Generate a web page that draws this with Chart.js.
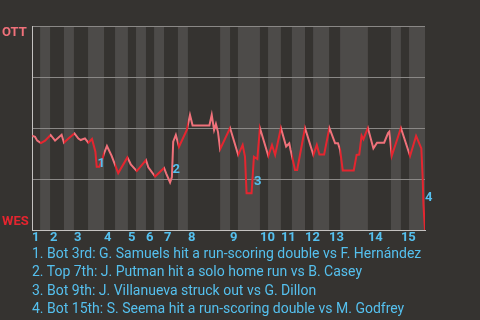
<!DOCTYPE html>
<html>
<head>
<meta charset="utf-8">
<script src="https://cdn.jsdelivr.net/npm/chart.js@4.4.1/dist/chart.umd.min.js"></script>
<style>
  html, body { margin: 0; padding: 0; background: #353330; }
  #wrap { position: relative; width: 480px; height: 320px; }
  #notes {
    position: absolute; left: 32px; top: 244px;
    font: 14px Roboto, sans-serif; line-height: 18.3px;
    color: #55c0ee; white-space: nowrap;
  }
</style>
</head>
<body>
<div id="wrap">
  <canvas id="wpChart" width="480" height="320"></canvas>
  <div id="notes"></div>
</div>
<script>
// Game data: x = play index, y = Ottawa win probability (%)
const playX = [0, 1.15, 2.0, 3.4, 5.0, 7.1, 8.8, 11.3, 12.2, 13.9, 16.2, 17.7, 18.6, 20.2, 21.5, 22.9,
  24.2, 24.7, 25.7, 27.0, 27.5, 28.6, 30.4, 32.9, 36.4, 37.7, 40.0, 43.5, 44.4, 47.0, 50.4, 51.2,
  52.7, 53.4, 53.9, 54.9, 56.1, 59.1, 60.3, 61.3, 67.7, 68.6, 69.5, 70.2, 71.0, 71.8, 75.6, 78.7,
  80.4, 81.3, 81.9, 83.8, 84.7, 86.0, 87.0, 90.2, 91.6, 92.8, 95.0, 97.0, 98.2, 98.7, 100.4, 101.2,
  104.2, 107.4, 108.7, 109.7, 111.5, 113.5, 115.7, 116.8, 117.6, 118.6, 122.8, 123.9, 124.9, 125.8,
  126.5, 128.2, 130.3, 131.7, 134.4, 135.9, 136.4, 137.3, 138.9, 140.8, 144.3, 146.6, 148.6, 149.1,
  149.4, 150];
const ottWinPct = [46.2, 45.7, 43.8, 42.6, 43.8, 46.6, 43.8, 46.7, 42.8, 44.8, 47.3, 44.8, 44.1, 44.9, 42.8, 44.6,
  38.4, 31.0, 31.0, 35.3, 37.6, 41.2, 36.3, 27.9, 35.6, 32.2, 28.9, 34.3, 30.7, 26.2, 30.4, 27.8,
  23.3, 26.0, 43.3, 46.6, 40.8, 49.0, 56.4, 51.2, 51.2, 56.4, 49.0, 52.0, 48.0, 39.6, 50, 36.8,
  41.7, 35.9, 18.0, 18.0, 35.9, 34.8, 50, 36.3, 41.7, 36.8, 50, 40.9, 42.5, 39.2, 29.4, 29.4,
  50, 36.8, 41.7, 37.0, 37.0, 50, 42.5, 42.5, 39.2, 29.2, 29.2, 36.8, 37.0, 46.3,
  44.5, 50, 40.0, 42.8, 42.8, 47.5, 48.2, 36.3, 42.5, 50, 36.3, 46.1, 40.0, 26.1,
  12.7, 0];

// Innings: where each inning and each bottom half starts (in plays)
const inningLabels = ['1', '2', '3', '4', '5', '6', '7', '8', '9', '10', '11', '12', '13', '14', '15'];
const inningStart = [0, 6.9, 16.0, 27.5, 36.6, 43.5, 50.4, 59.5, 75.6, 87.0, 95.0, 104.2, 113.4, 128.2, 140.8];
const bottomStart = [3.1, 12.2, 21.4, 31.7, 39.7, 46.6, 55.7, 71.8, 78.6, 90.1, 99.2, 107.3, 117.6, 137.0, 143.9];
const gameEnd = 150;

// Key events
const eventLabels = ['1', '2', '3', '4'];
const eventX = [25.0, 53.6, 84.7, 150.0];
const eventY = [32.4, 29.4, 23.5, 15.9];
const eventNotes = [
    'Bot 3rd: G. Samuels hit a run-scoring double vs F. Hernández',
    'Top 7th: J. Putman hit a solo home run vs B. Casey',
    'Bot 9th: J. Villanueva struck out vs G. Dillon',
    'Bot 15th: S. Seema hit a run-scoring double vs M. Godfrey'
];

const teamTop = 'OTT';
const teamBottom = 'WES';

// Colours
const BG = '#353330';
const BAND = '#4d4b49';
const PINK = '#f0717a';
const RED = '#e5252f';
const BLUE = '#55c0ee';

// Half-inning ranges [start, end, isBottom]
function halfInnings() {
    const halves = [];
    inningStart.forEach((s, i) => {
        const next = i + 1 < inningStart.length ? inningStart[i + 1] : gameEnd;
        halves.push([s, bottomStart[i], false]);
        halves.push([bottomStart[i], next, true]);
    });
    return halves;
}

// Line colour follows the half inning under it
function lineGradient(chart) {
    const area = chart.chartArea;
    const x = chart.scales.x;
    if (!area || !x) return RED;
    const g = chart.ctx.createLinearGradient(area.left, 0, area.right, 0);
    const w = area.right - area.left;
    halfInnings().forEach(([s, e, isBottom]) => {
        const f0 = Math.min(Math.max((x.getPixelForValue(s) - area.left) / w, 0), 1);
        const f1 = Math.min(Math.max((x.getPixelForValue(e) - area.left) / w, 0), 1);
        const c = isBottom ? RED : PINK;
        g.addColorStop(f0, c);
        g.addColorStop(f1, c);
    });
    return g;
}

const backdrop = {
    id: 'backdrop',
    beforeDraw(chart) {
        const {ctx, chartArea: a, scales: {x}} = chart;
        ctx.save();
        ctx.fillStyle = BG;
        ctx.fillRect(0, 0, chart.width, chart.height);
        ctx.fillStyle = BAND;
        halfInnings().forEach(([s, e, isBottom]) => {
            if (!isBottom) return;
            const x0 = x.getPixelForValue(s);
            const x1 = x.getPixelForValue(e);
            ctx.fillRect(x0, a.top, x1 - x0, a.bottom - a.top);
        });
        ctx.restore();
    },
    afterDraw(chart) {
        const {ctx, scales: {x, y}} = chart;
        ctx.save();
        ctx.font = 'bold 13px Roboto, sans-serif';
        ctx.textAlign = 'left';
        ctx.textBaseline = 'middle';
        ctx.fillStyle = PINK;
        ctx.fillText(teamTop, 2, y.getPixelForValue(100) + 7);
        ctx.fillStyle = RED;
        ctx.fillText(teamBottom, 2, y.getPixelForValue(0) - 8);
        ctx.fillStyle = BLUE;
        eventLabels.forEach((lab, i) => {
            ctx.fillText(lab, x.getPixelForValue(eventX[i]), y.getPixelForValue(eventY[i]));
        });
        ctx.restore();
    }
};

document.getElementById('notes').innerHTML =
    eventNotes.map((t, i) => `<div>${eventLabels[i]}. ${t}</div>`).join('');

const points = playX.map((px, i) => ({x: px, y: ottWinPct[i]}));

new Chart(document.getElementById('wpChart'), {
    type: 'line',
    data: {
        datasets: [{
            data: points,
            borderColor: ctx => lineGradient(ctx.chart),
            borderWidth: 2,
            pointRadius: 0,
            tension: 0,
            fill: false
        }]
    },
    options: {
        responsive: false,
        animation: false,
        layout: { padding: { left: 32, top: 26, right: 55, bottom: 70 } },
        plugins: { legend: { display: false }, tooltip: { enabled: false } },
        scales: {
            x: {
                type: 'linear',
                min: 0,
                max: gameEnd,
                afterBuildTicks: s => { s.ticks = inningStart.map(v => ({value: v})); },
                afterFit: s => { s.height = 20; },
                grid: { display: false, drawTicks: false },
                border: { display: true, color: '#c4c2c0', width: 1 },
                ticks: {
                    autoSkip: false,
                    maxRotation: 0,
                    align: 'start',
                    padding: 0,
                    color: BLUE,
                    font: { family: 'Roboto, sans-serif', size: 13, weight: 'bold' },
                    callback: (v, i) => inningLabels[i]
                }
            },
            y: {
                min: 0,
                max: 100,
                afterBuildTicks: s => { s.ticks = [0, 25, 50, 75, 100].map(v => ({value: v})); },
                afterFit: s => { s.width = 0; },
                grid: { color: '#8a8886', lineWidth: 1, drawTicks: false },
                border: { display: true, color: '#c4c2c0', width: 1 },
                ticks: { display: false }
            }
        }
    },
    plugins: [backdrop]
});
</script>
</body>
</html>
